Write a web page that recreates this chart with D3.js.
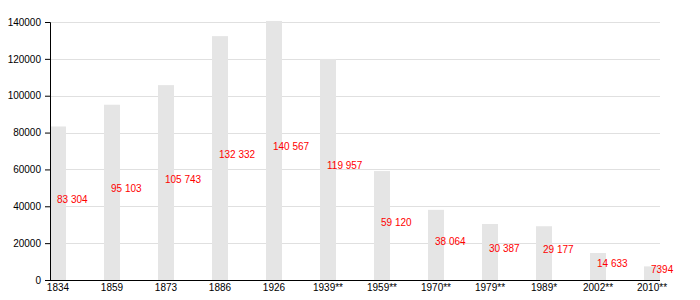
<!DOCTYPE html>
<html lang="en">
<head>
    <meta charset="utf-8">
    <script src="https://d3js.org/d3.v7.min.js"></script>
    <style>
        body { margin: 0; background: white; }
        svg { font-family: "Liberation Sans", Arial, sans-serif; }
        .grid line { stroke: #e0e0e0; stroke-width: 1px; }
        .bar { fill: #e5e5e5; }
        .value { fill: red; font-size: 10px; }
        .axis text { font-size: 10px; fill: #000; }
        .axis path, .axis line { stroke: #000; }
    </style>
</head>
<body>
<script>
    let years = ['1834', '1859', '1873', '1886', '1926', '1939**', '1959**', '1970**',
        '1979**', '1989*', '2002**', '2010**'];
    let population = [83304, 95103, 105743, 132332, 140567, 119957, 59120, 38064,
        30387, 29177, 14633, 7394];
    let yTicks = [0, 20000, 40000, 60000, 80000, 100000, 120000, 140000];

    let plotLeft = 50, plotRight = 660, plotTop = 22, plotBottom = 280;

    let svg = d3.select('body').append('svg')
        .attr('width', 700).attr('height', 300);

    let x = d3.scaleBand().domain(years).range([plotLeft, plotRight])
        .paddingInner(0.704).paddingOuter(0).align(0);
    let y = d3.scaleLinear().domain([0, 140000]).range([plotBottom, plotTop]);

    // grid lines
    svg.append('g').attr('class', 'grid').selectAll('line')
        .data(yTicks.slice(1))
        .enter().append('line')
        .attr('x1', plotLeft).attr('x2', plotRight)
        .attr('y1', function (d) { return Math.round(y(d)) + 0.5; })
        .attr('y2', function (d) { return Math.round(y(d)) + 0.5; });

    let data = years.map(function (yr, i) { return {year: yr, value: population[i]}; });

    svg.append('g').selectAll('rect')
        .data(data)
        .enter().append('rect')
        .attr('class', 'bar')
        .attr('x', function (d) { return x(d.year); })
        .attr('width', x.bandwidth())
        .attr('y', function (d) { return y(d.value); })
        .attr('height', function (d) { return plotBottom - y(d.value); });

    function fmt(v) {
        let s = String(v);
        return v >= 10000 ? s.slice(0, s.length - 3) + ' ' + s.slice(-3) : s;
    }

    svg.append('g').attr('class', 'axis')
        .attr('transform', 'translate(' + plotLeft + ',0)')
        .call(d3.axisLeft(y).tickValues(yTicks).tickSize(5).tickPadding(4)
            .tickFormat(d3.format('d')));

    svg.append('g').attr('class', 'axis')
        .attr('transform', 'translate(0,' + plotBottom + ')')
        .call(d3.axisBottom(x).tickSize(0).tickPadding(4))
        .call(function (g) { g.select('.domain').attr('d', 'M' + plotLeft + ',0.5H' + plotRight); });

    svg.append('g').selectAll('text')
        .data(data)
        .enter().append('text')
        .attr('class', 'value')
        .attr('x', function (d) { return x(d.year) + 7; })
        .attr('y', function (d) { return y(d.value / 2); })
        .text(function (d) { return fmt(d.value); });
</script>
</body>
</html>
